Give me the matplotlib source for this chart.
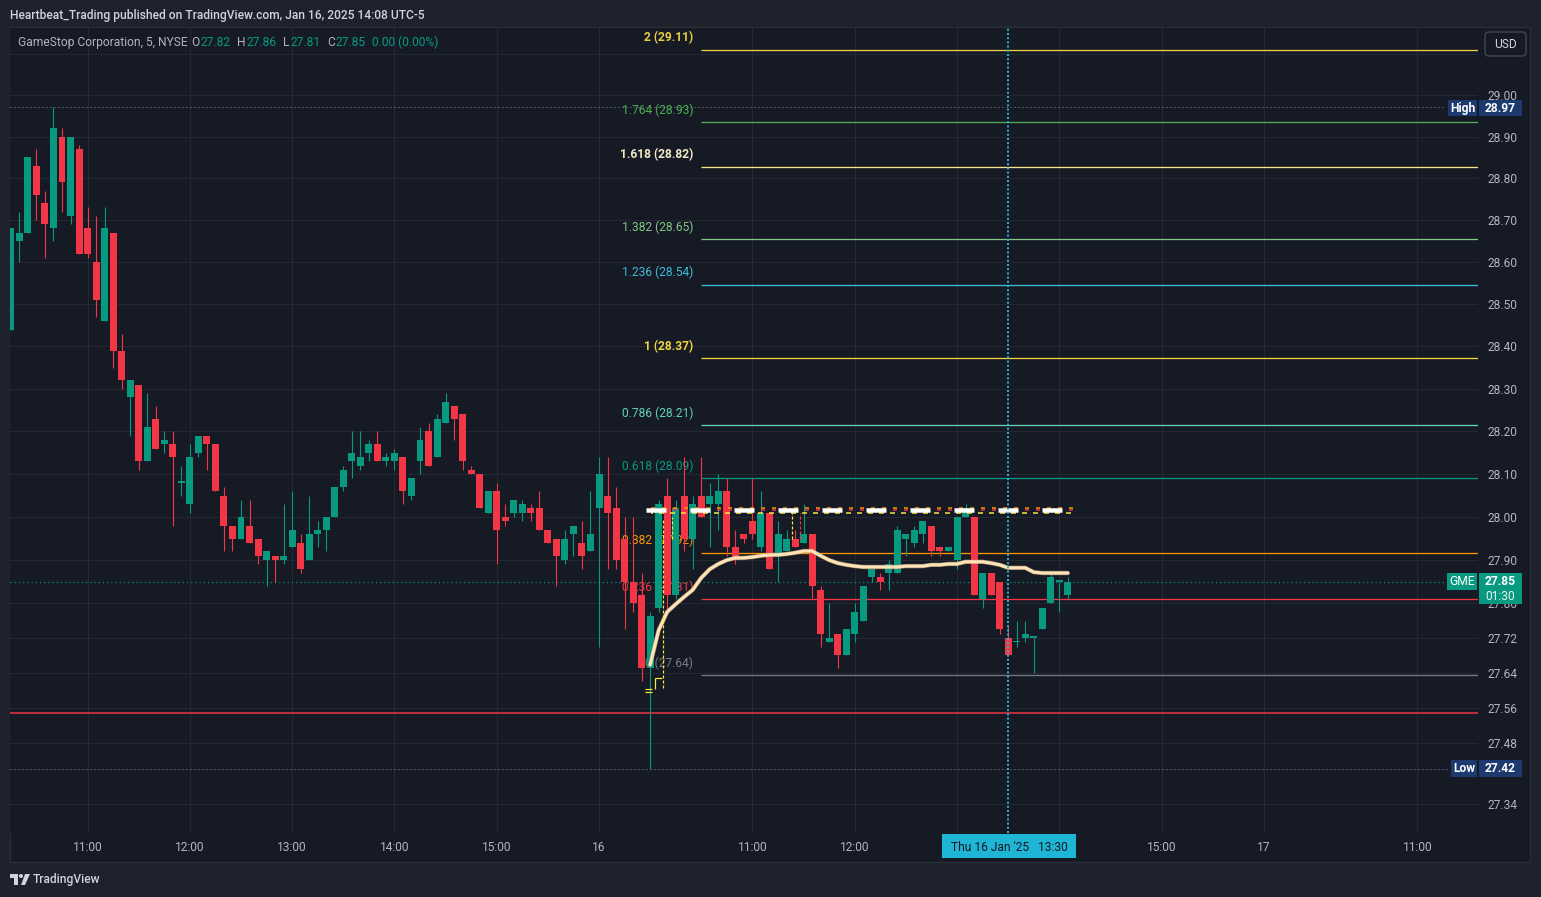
import numpy as np
import matplotlib
matplotlib.use("Agg")
import matplotlib.pyplot as plt
from matplotlib.patches import Rectangle, FancyBboxPatch, Polygon, Circle
from matplotlib.ticker import NullLocator, NullFormatter
from matplotlib.transforms import IdentityTransform

plt.rcParams['font.family'] = ['Roboto', 'DejaVu Sans']
plt.rcParams['lines.scale_dashes'] = False

# ---------------------------------------------------------------- data
title = "Heartbeat_Trading published on TradingView.com, Jan 16, 2025 14:08 UTC-5"
symbol = "GameStop Corporation, 5, NYSE"
first_bar = 9   # 5-min bar index counted from Jan 15, 09:30

opens = [28.44, 28.65, 28.67, 28.83, 28.74, 28.68, 28.90, 28.71, 28.87, 28.68,
         28.60, 28.46, 28.67, 28.39, 28.28, 28.31, 28.13, 28.23, 28.17, 28.17,
         28.08, 28.03, 28.15, 28.19, 28.17, 28.05, 27.98, 27.95, 27.98, 27.95,
         27.90, 27.91, 27.90, 27.93, 27.94, 27.90, 27.96, 27.97, 28.00, 28.07,
         28.13, 28.12, 28.15, 28.17, 28.13, 28.13, 28.14, 28.05, 28.13, 28.20,
         28.14, 28.22, 28.26, 28.24, 28.11, 28.10, 28.01, 28.06, 28.00, 28.01,
         28.01, 28.02, 28.02, 27.97, 27.95, 27.90, 27.96, 27.94, 27.92, 28.02,
         28.05, 28.02, 27.95, 27.85, 27.82, 27.65, 27.79, 28.05, 27.82, 28.05,
         27.95, 28.05, 28.03, 28.03, 28.06, 27.93, 27.96, 27.99, 27.93, 28.01,
         27.91, 27.92, 27.95, 27.94, 27.96, 27.83, 27.71, 27.73, 27.68, 27.73,
         27.76, 27.86, 27.86, 27.87, 27.87, 27.95, 27.94, 27.96, 27.98, 27.93,
         27.92, 27.90, 28.00, 28.00, 27.81, 27.87, 27.85, 27.72, 27.71, 27.72,
         27.72, 27.74, 27.80, 27.85, 27.82]
highs = [28.68, 28.72, 28.85, 28.87, 28.77, 28.97, 28.92, 28.90, 28.88, 28.73,
         28.71, 28.73, 28.67, 28.43, 28.32, 28.31, 28.29, 28.26, 28.20, 28.20,
         28.12, 28.17, 28.19, 28.19, 28.17, 28.07, 27.98, 28.04, 28.04, 27.95,
         27.92, 27.91, 28.03, 28.06, 27.96, 28.05, 27.99, 28.00, 28.07, 28.12,
         28.20, 28.20, 28.18, 28.20, 28.15, 28.16, 28.14, 28.09, 28.21, 28.22,
         28.24, 28.29, 28.26, 28.24, 28.12, 28.10, 28.06, 28.08, 28.03, 28.04,
         28.04, 28.03, 28.06, 27.97, 27.95, 27.97, 27.98, 27.99, 28.06, 28.14,
         28.14, 28.07, 28.00, 28.00, 27.87, 27.78, 28.04, 28.09, 28.04, 28.14,
         28.05, 28.14, 28.08, 28.10, 28.09, 27.97, 27.96, 28.09, 28.06, 28.01,
         27.99, 27.97, 27.97, 28.03, 27.96, 27.84, 27.80, 27.73, 27.74, 27.80,
         27.84, 27.88, 27.87, 27.90, 27.98, 27.96, 27.98, 27.99, 27.98, 27.93,
         27.93, 28.00, 28.03, 28.00, 27.87, 27.87, 27.85, 27.75, 27.76, 27.76,
         27.72, 27.79, 27.87, 27.85, 27.86]
lows = [28.44, 28.60, 28.67, 28.70, 28.61, 28.65, 28.72, 28.69, 28.62, 28.61,
        28.47, 28.46, 28.35, 28.30, 28.19, 28.11, 28.13, 28.16, 28.15, 27.98,
        28.05, 28.01, 28.14, 28.11, 28.06, 27.92, 27.92, 27.95, 27.94, 27.89,
        27.84, 27.85, 27.89, 27.93, 27.87, 27.90, 27.93, 27.92, 28.00, 28.06,
        28.09, 28.11, 28.13, 28.13, 28.12, 28.11, 28.03, 28.04, 28.10, 28.12,
        28.14, 28.22, 28.18, 28.11, 28.10, 28.02, 28.01, 27.89, 27.98, 28.00,
        27.99, 27.99, 27.97, 27.94, 27.84, 27.89, 27.91, 27.88, 27.92, 27.70,
        27.88, 27.88, 27.74, 27.78, 27.62, 27.42, 27.78, 27.78, 27.81, 27.92,
        27.88, 28.00, 27.93, 27.97, 27.91, 27.89, 27.94, 27.95, 27.92, 27.88,
        27.85, 27.92, 27.93, 27.94, 27.81, 27.70, 27.71, 27.65, 27.68, 27.71,
        27.76, 27.85, 27.83, 27.83, 27.87, 27.91, 27.93, 27.94, 27.91, 27.91,
        27.92, 27.88, 28.00, 27.82, 27.79, 27.82, 27.73, 27.68, 27.70, 27.71,
        27.64, 27.74, 27.80, 27.78, 27.81]
closes = [28.68, 28.67, 28.85, 28.76, 28.69, 28.92, 28.79, 28.90, 28.62, 28.62,
          28.51, 28.68, 28.39, 28.32, 28.32, 28.13, 28.21, 28.16, 28.18, 28.14,
          28.08, 28.14, 28.19, 28.17, 28.06, 27.98, 27.95, 28.00, 27.94, 27.91,
          27.92, 27.90, 27.91, 27.97, 27.88, 27.96, 27.97, 28.00, 28.07, 28.11,
          28.15, 28.14, 28.17, 28.13, 28.14, 28.15, 28.06, 28.09, 28.18, 28.12,
          28.23, 28.27, 28.23, 28.13, 28.10, 28.02, 28.06, 27.97, 27.99, 28.04,
          28.03, 28.01, 27.97, 27.94, 27.91, 27.95, 27.98, 27.91, 27.96, 28.10,
          28.01, 27.90, 27.85, 27.80, 27.65, 27.77, 28.03, 27.82, 28.02, 27.95,
          28.03, 28.00, 28.05, 28.06, 27.93, 27.90, 27.95, 27.96, 28.01, 27.88,
          27.96, 27.95, 27.93, 27.96, 27.84, 27.73, 27.72, 27.68, 27.74, 27.78,
          27.84, 27.88, 27.85, 27.89, 27.97, 27.96, 27.97, 27.99, 27.92, 27.92,
          27.93, 28.00, 28.02, 27.82, 27.87, 27.82, 27.74, 27.68, 27.71, 27.73,
          27.72, 27.79, 27.86, 27.85, 27.85]

time_tick_bars = [18, 30, 42, 54, 66, 78, 96, 108, 120, 132, 144, 156, 174]
time_tick_labels = ['11:00', '12:00', '13:00', '14:00', '15:00', '16', '11:00',
                    '12:00', '', '', '15:00', '17', '11:00']

price_ticks = [29.10, 29.00, 28.90, 28.80, 28.70, 28.60, 28.50, 28.40, 28.30,
               28.20, 28.10, 28.00, 27.90, 27.80, 27.72, 27.64, 27.56, 27.48, 27.34]
price_tick_labels = ['', '29.00', '28.90', '28.80', '28.70', '28.60', '28.50',
                     '28.40', '28.30', '28.20', '28.10', '28.00', '27.90', '27.80',
                     '27.72', '27.64', '27.56', '27.48', '27.34']

fib_levels = ['2', '1.764', '1.618', '1.382', '1.236', '1', '0.786', '0.618',
              '0.382', '0.236', '0']
fib_prices = [29.109, 28.935, 28.827, 28.654, 28.546, 28.372, 28.214, 28.090,
              27.917, 27.809, 27.635]
fib_price_text = ['29.11', '28.93', '28.82', '28.65', '28.54', '28.37', '28.21',
                  '28.09', '27.92', '27.81', '27.64']
fib_start_bar = 90

vwap_start = 84
vwap = [27.658, 27.738, 27.780, 27.798, 27.815, 27.831, 27.859, 27.879, 27.891,
        27.900, 27.905, 27.905, 27.907, 27.910, 27.912, 27.912, 27.914, 27.917,
        27.921, 27.921, 27.910, 27.900, 27.893, 27.889, 27.886, 27.884, 27.884,
        27.884, 27.884, 27.884, 27.886, 27.886, 27.886, 27.889, 27.889, 27.891,
        27.891, 27.896, 27.896, 27.896, 27.893, 27.889, 27.882, 27.882, 27.882,
        27.872, 27.870, 27.870, 27.870, 27.870]

session_high = 28.97
session_low = 27.42
last_price = 27.85
day_change = "0.00 (0.00%)"
countdown = "01:30"
support_level = 27.547
key_level_white = 28.016
key_level_orange = 28.020
key_level_red = 28.016
key_level_yellow = 28.009
key_level_span = (83.47, 133.9)
crosshair_bar = 126
crosshair_text = "Thu 16 Jan '25   13:30"

# ---------------------------------------------------------------- style
W, H, DPI = 1541, 897, 100
PXPT = 72.0 / DPI          # points per pixel
BG_OUT = '#1e222d'
BG = '#161a25'
GRID = '#242833'
TXT = '#b2b5be'
UP = '#089981'
DN = '#f23645'
fib_colors = ['#e9d043', '#4caf50', '#f6e88a', '#81c784', '#3dbdd6', '#f2d53c',
              '#62d2bd', '#089981', '#ff9800', '#f23645', '#787b86']
fib_text_colors = ['#e9d043', '#4caf50', '#f3ebc6', '#81c784', '#3dbdd6', '#f2d53c',
                   '#62d2bd', '#089981', '#ff9800', '#f23645', '#787b86']
fib_bold = [True, False, True, False, False, True, False, False, False, False, False]
FS = 12 * PXPT             # 12 px font

fig = plt.figure(figsize=(W / DPI, H / DPI), dpi=DPI, facecolor=BG_OUT)
PX = IdentityTransform()


def ptxt(x, y, s, **kw):
    return fig.text(x, H - y, s, transform=PX, **kw)


def prect(x0, y0, x1, y1, **kw):
    r = Rectangle((x0, H - y1), x1 - x0, y1 - y0, transform=PX, **kw)
    fig.add_artist(r)
    return r


# pane background
prect(10, 27, 1530, 862, facecolor=BG, edgecolor='#2a2e39', lw=1, zorder=-5)

ax = fig.add_axes([10 / W, (H - 833) / H, 1468 / W, 805 / H])
ax.set_facecolor(BG)
for s in ax.spines.values():
    s.set_visible(False)

ax.set_yscale('log')
ax.set_xlim(8.90, 181.12)
ax.set_ylim(27.274, 29.162)
ax.yaxis.set_minor_locator(NullLocator())
ax.yaxis.set_minor_formatter(NullFormatter())
ax.set_yticks(price_ticks)
ax.set_yticklabels(price_tick_labels)
ax.yaxis.tick_right()
ax.set_xticks(time_tick_bars)
ax.set_xticklabels(time_tick_labels)
ax.tick_params(axis='y', length=0, pad=10 * PXPT, labelsize=FS, labelcolor=TXT)
ax.tick_params(axis='x', length=0, pad=8 * PXPT, labelsize=FS, labelcolor=TXT)
ax.grid(True, color=GRID, lw=1 * PXPT, zorder=0)
ax.set_axisbelow(True)

# ---------------------------------------------------------------- levels
xr = ax.get_xlim()[1]
for lvl, pr, ptx, col, tcol, bold in zip(fib_levels, fib_prices, fib_price_text,
                                         fib_colors, fib_text_colors, fib_bold):
    ax.hlines(pr, fib_start_bar, xr, color=col, lw=1.3 * PXPT, zorder=1)
    ax.annotate(f"{lvl} ({ptx})", xy=(fib_start_bar, pr), xytext=(-8, 12),
                textcoords='offset pixels', ha='right', va='center',
                color=tcol, fontsize=FS, fontweight='bold' if bold else 'normal',
                zorder=2)

ax.axhline(support_level, color=DN, lw=1.5 * PXPT, zorder=1)
hl_end = (1446 - 10) / 1468
ax.axhline(session_high, xmax=hl_end, color='#8a8d96', lw=1 * PXPT,
           dashes=(1 * PXPT, 3 * PXPT), zorder=1.5)
ax.axhline(session_low, xmax=(1450 - 10) / 1468, color='#8a8d96', lw=1 * PXPT,
           dashes=(1 * PXPT, 3 * PXPT), zorder=1.5)
ax.axhline(last_price, xmax=hl_end, color=UP, lw=1.2 * PXPT,
           dashes=(1.2 * PXPT, 3 * PXPT), zorder=1.5)

# ---------------------------------------------------------------- candles
o = np.array(opens)
h = np.array(highs)
l = np.array(lows)
c = np.array(closes)
idx = np.arange(first_bar, first_bar + len(o))
col = np.where(c >= o, UP, DN)
ax.vlines(idx, l, h, colors=col, lw=1.1 * PXPT, zorder=3)
lo_b = np.minimum(o, c)
hi_b = np.maximum(np.maximum(o, c), lo_b * 1.00013)
ax.bar(idx, hi_b - lo_b, bottom=lo_b, width=0.82, color=col, lw=0, zorder=3.1)

# ---------------------------------------------------------------- vwap
vx = np.arange(vwap_start, vwap_start + len(vwap))
ax.plot(vx, vwap, color='#c9a97a', lw=4.4 * PXPT, solid_capstyle='round',
        zorder=4, alpha=0.6)
ax.plot(vx, vwap, color='#ffe3b8', lw=3.2 * PXPT, solid_capstyle='round', zorder=4.1)

# ---------------------------------------------------------------- key levels
x0k, x1k = key_level_span
ax.hlines(key_level_orange, x0k + 0.6, x1k, color='#ff9800', lw=1.5 * PXPT,
          linestyles=[(0, (4 * PXPT, 7 * PXPT))], zorder=4.5)
ax.hlines(key_level_red, x0k + 0.6, x1k, color='#f23645', lw=1.5 * PXPT,
          linestyles=[(0, (4 * PXPT, 7 * PXPT))], zorder=4.5)
ax.hlines(key_level_yellow, x0k + 0.6, x1k, color='#ffeb3b', lw=1.5 * PXPT,
          linestyles=[(3 * PXPT, (5 * PXPT, 6 * PXPT))], zorder=4.5)
ax.hlines(key_level_white, x0k, x1k, color='white', lw=4.5 * PXPT,
          linestyles=[(0, (20 * PXPT, 24 * PXPT))], zorder=4.6)
for xv, y0v, y1v, cv in [(85.5, 27.605, 27.995, '#ffeb3b'),
                         (86.6, 27.95, 28.00, '#ffeb3b'),
                         (100.6, 27.95, 28.01, '#ffeb3b'),
                         (101.6, 27.95, 28.01, '#f23645')]:
    ax.vlines(xv, y0v, y1v, color=cv, lw=1.2 * PXPT,
              linestyles=[(0, (3 * PXPT, 2 * PXPT))], zorder=4.4)
ax.hlines([27.603, 27.596], 83.4, 84.2, color='#ffeb3b', lw=1.2 * PXPT, zorder=4.4)
ax.vlines(84.6, 27.603, 27.628, color='#ffeb3b', lw=1.2 * PXPT, zorder=4.4)
ax.hlines([27.628], 84.6, 85.4, color='#ffeb3b', lw=1.2 * PXPT, zorder=4.4)

# ---------------------------------------------------------------- crosshair
ax.axvline(crosshair_bar, color='#1fb6d6', lw=2 * PXPT,
           dashes=(2 * PXPT, 2.2 * PXPT), zorder=5)

# ---------------------------------------------------------------- header texts
ptxt(10, 15, title, color='#d1d4dc', fontsize=FS, fontweight='medium',
     va='center', ha='left')

renderer = fig.canvas.get_renderer()
leg = [(symbol, 0, TXT), ("O", 4, TXT), (f"{opens[-1]:.2f}", 0.5, UP),
       ("H", 7, TXT), (f"{highs[-1]:.2f}", 0.5, UP),
       ("L", 7, TXT), (f"{lows[-1]:.2f}", 0.5, UP),
       ("C", 7, TXT), (f"{closes[-1]:.2f}", 0.5, UP),
       (day_change, 6, UP)]
cur_x = 18
for s, gap, cc in leg:
    cur_x += gap
    t = ptxt(cur_x, 42, s, color=cc, fontsize=FS, va='center', ha='left')
    cur_x = t.get_window_extent(renderer).x1

# ---------------------------------------------------------------- right axis badges
ub = FancyBboxPatch((1485, H - 56), 41, 24, boxstyle='round,pad=0,rounding_size=4',
                    transform=PX, facecolor=BG, edgecolor='#434651', lw=1)
fig.add_artist(ub)
ptxt(1505.5, 44, "USD", color='#d1d4dc', fontsize=FS, ha='center', va='center')

NAVY = '#1d3a6f'
prect(1448, 100, 1477, 116, facecolor=NAVY, lw=0, zorder=5)
ptxt(1462.5, 108, "High", color='white', fontsize=FS, fontweight='bold',
     ha='center', va='center', zorder=6)
prect(1479, 100, 1522, 116, facecolor=NAVY, lw=0, zorder=5)
ptxt(1500.5, 108, f"{session_high:.2f}", color='white', fontsize=FS,
     fontweight='bold', ha='center', va='center', zorder=6)

prect(1451, 760, 1477, 777, facecolor=NAVY, lw=0, zorder=5)
ptxt(1464, 768.5, "Low", color='white', fontsize=FS, fontweight='bold',
     ha='center', va='center', zorder=6)
prect(1479, 760, 1522, 777, facecolor=NAVY, lw=0, zorder=5)
ptxt(1500.5, 768.5, f"{session_low:.2f}", color='white', fontsize=FS,
     fontweight='bold', ha='center', va='center', zorder=6)

prect(1447, 573, 1477, 590, facecolor=UP, lw=0, zorder=5)
ptxt(1462, 581.5, "GME", color='white', fontsize=FS, ha='center', va='center',
     zorder=6)
prect(1479, 573, 1522, 604, facecolor=UP, lw=0, zorder=5)
ptxt(1500.5, 581, f"{last_price:.2f}", color='white', fontsize=FS,
     fontweight='bold', ha='center', va='center', zorder=6)
ptxt(1500.5, 596, countdown, color='#e8f5f2', fontsize=FS, ha='center',
     va='center', zorder=6)

# crosshair time badge
prect(942, 834, 1076, 858, facecolor='#1fb6d6', lw=0, zorder=5)
ptxt(1009, 847, crosshair_text, color='#131722', fontsize=FS, ha='center',
     va='center', zorder=6)

# ---------------------------------------------------------------- footer logo
fig.add_artist(Polygon([(10, H - 874), (18, H - 874), (18, H - 885), (14, H - 885),
                        (14, H - 878), (10, H - 878)], closed=True, transform=PX,
                       facecolor='#d1d4dc', lw=0))
fig.add_artist(Circle((21, H - 876), 2, transform=PX, facecolor='#d1d4dc', lw=0))
fig.add_artist(Polygon([(25, H - 874), (30, H - 874), (25, H - 885), (21, H - 885)],
                       closed=True, transform=PX, facecolor='#d1d4dc', lw=0))
ptxt(33, 879, "TradingView", color='#d1d4dc', fontsize=FS, fontweight='medium',
     ha='left', va='center')

fig.savefig('out.png', dpi=DPI, facecolor=BG_OUT)
